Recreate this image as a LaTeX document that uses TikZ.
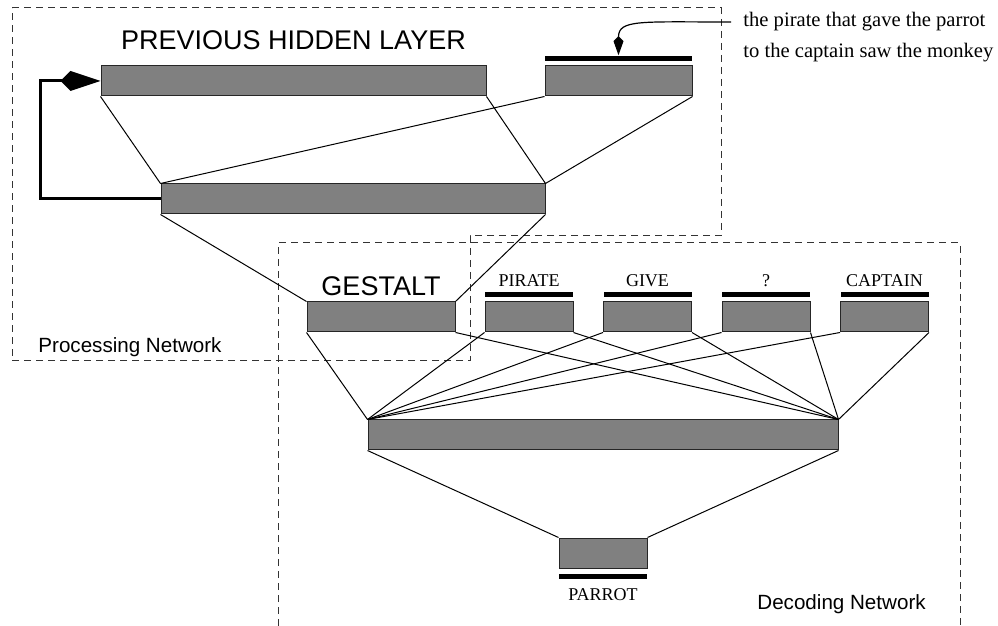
\documentclass[tikz,border=0pt]{standalone}
\usepackage{fontspec}
\setmainfont{Liberation Serif}
\setsansfont{Liberation Sans}
\usetikzlibrary{positioning,arrows.meta}

\begin{document}
\begin{tikzpicture}[x=0.5pt,y=-0.5pt,
  layer/.style={draw=black!85,fill=black!50,line width=0.5pt,inner sep=0pt,minimum height=15pt},
  bar/.style={fill=black,inner sep=0pt,minimum height=2.75pt},
  word/.style={inner sep=0pt,font=\fontsize{9}{10}\selectfont},
  title/.style={inner sep=0pt,font=\sffamily\fontsize{13.5}{15}\selectfont},
  caption/.style={anchor=west,inner sep=0pt,font=\sffamily\fontsize{10.3}{12}\selectfont},
  sentence/.style={anchor=west,inner sep=0pt,font=\fontsize{10.3}{12}\selectfont},
  region/.style={dash pattern=on 3.5pt off 2.5pt,line width=0.5pt,black!80},
  link/.style={line width=0.5pt}]
\useasboundingbox (0,0) rectangle (998,626);

% the two networks
\draw[region] (12,8) -- (721,8) -- (721,236) -- (470,236) -- (470,361) -- (12,361) -- cycle;
\draw[region] (278,626) -- (278,243) -- (960,243) -- (960,626);
\node[caption] (proc) at (38,347) {Processing Network};
\node[caption] (dec) at (757,604) {Decoding Network};

\node[layer,minimum width=192.5pt] (prev) at (293.5,81) {};
\node[layer,minimum width=73.5pt] (context) at (618.5,81) {};
\node[bar,minimum width=73.5pt,above=2pt of context] (context-bar) {};
\node[layer,minimum width=192pt] (hidden) at (353,199) {};
\node[layer,minimum width=74pt] (gestalt) at (381,317) {};
\node[title,above=7.5pt of prev] {PREVIOUS HIDDEN LAYER};
\node[title,above=2.5pt of gestalt] {GESTALT};

\foreach \name/\lab [count=\i from 0] in {pirate/PIRATE,give/GIVE,unknown/?,captain/CAPTAIN} {
  \node[layer,minimum width=44pt] (\name) at (529+118.5*\i,317) {};
  \node[bar,minimum width=44pt,above=2pt of \name] (\name-bar) {};
  \node[word,above=2pt of \name-bar] {\lab};
}

\node[layer,minimum width=235pt] (decoder) at (603,435) {};
\node[layer,minimum width=44pt] (parrot) at (603,553) {};
\node[bar,minimum width=44pt,below=2.5pt of parrot] (parrot-bar) {};
\node[word,below=4pt of parrot-bar] {PARROT};

\node[sentence] (line1) at (743,22) {the pirate that gave the parrot};
\node[sentence] (line2) at (743,53) {to the captain saw the monkey};
\draw[line width=0.6pt,-{Kite[length=9.5pt,width=5pt,inset=2.5pt]}] ([xshift=-6pt]line1.west) .. controls +(-90,0) and +(0,-36) .. (context-bar.north);

% recurrence
\draw[line width=1.5pt,-{Kite[length=20pt,width=10pt,inset=5pt]}] (hidden.west) -- ++(-120,0) |- (prev.west);

\draw[link] (prev.south west) -- (hidden.north west) (prev.south east) -- (hidden.north east)
  (context.south west) -- (hidden.north west) (context.south east) -- (hidden.north east)
  (hidden.south west) -- (gestalt.north west) (hidden.south east) -- (gestalt.north east);
\foreach \name in {gestalt,pirate,give,unknown,captain}
  \draw[link] (\name.south west) -- (decoder.north west) (\name.south east) -- (decoder.north east);
\draw[link] (decoder.south west) -- (parrot.north west) (decoder.south east) -- (parrot.north east);
\end{tikzpicture}
\end{document}
